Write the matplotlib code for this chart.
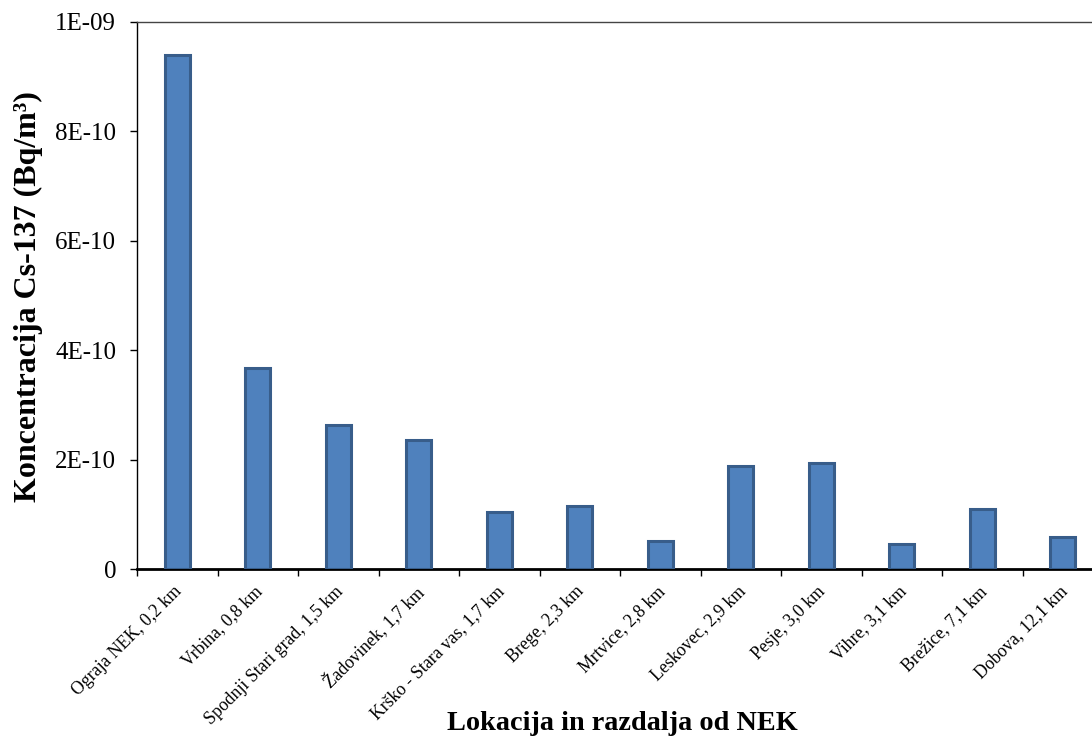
import matplotlib
matplotlib.use("Agg")
import matplotlib.pyplot as plt
import matplotlib.transforms as mtransforms
import numpy as np

categories = ["Ograja NEK, 0,2 km", "Vrbina, 0,8 km", "Spodnji Stari grad, 1,5 km",
              "Žadovinek, 1,7 km", "Krško - Stara vas, 1,7 km", "Brege, 2,3 km",
              "Mrtvice, 2,8 km", "Leskovec, 2,9 km", "Pesje, 3,0 km", "Vihre, 3,1 km",
              "Brežice, 7,1 km", "Dobova, 12,1 km"]
values = [9.40e-10, 3.67e-10, 2.63e-10, 2.36e-10, 1.04e-10, 1.15e-10,
          0.51e-10, 1.88e-10, 1.94e-10, 0.46e-10, 1.09e-10, 0.58e-10]
yticks = [0, 2e-10, 4e-10, 6e-10, 8e-10, 1e-9]
ytick_labels = ["0", "2E-10", "4E-10", "6E-10", "8E-10", "1E-09"]

plt.rcParams['font.family'] = ['Liberation Serif', 'DejaVu Serif']

fig = plt.figure(figsize=(10.92, 7.40), dpi=100)
ax = fig.add_axes([137/1092, (740-569)/740, 966/1092, (569-22)/740])

x = np.arange(len(categories))
ax.bar(x, values, width=0.31, color="#4F81BD", edgecolor="#385D8A", linewidth=2.2, zorder=3)

ax.set_xlim(-0.5, len(categories) - 0.5)
ax.set_ylim(0, 1e-9)
ax.set_yticks(yticks)
ax.set_yticklabels(ytick_labels, fontsize=18)
ax.set_xticks(np.arange(len(categories) + 1) - 0.5)
ax.set_xticklabels([])
ax.set_xticks(x, minor=True)
ax.set_xticklabels(categories, minor=True, rotation=45, ha='right', va='top',
                   rotation_mode='anchor', fontsize=12.8)
ax.tick_params(axis='x', which='minor', length=0, pad=10)
ax.tick_params(axis='x', which='major', length=5, width=1, direction='out')
ax.tick_params(axis='y', length=5, width=1, direction='out', pad=10)
ax.yaxis.get_offset_text().set_visible(False)

shift = mtransforms.ScaledTranslation(-4/100, 0, fig.dpi_scale_trans)
for lab in ax.get_xticklabels(minor=True):
    lab.set_transform(lab.get_transform() + shift)

ax.spines['right'].set_visible(False)
ax.spines['left'].set_linewidth(1.0)
ax.spines['bottom'].set_linewidth(2.0)
ax.spines['top'].set_linewidth(1.0)
ax.spines['top'].set_color("#444444")

fig.text(28/1092, 1 - 297/740, "Koncentracija Cs-137 (Bq/m³)", fontsize=23,
         fontweight='bold', ha='center', va='center', rotation=90)
fig.text(622/1092, 1 - 724/740, "Lokacija in razdalja od NEK", fontsize=20.3,
         fontweight='bold', ha='center', va='center')

fig.savefig("out.png", dpi=100)
